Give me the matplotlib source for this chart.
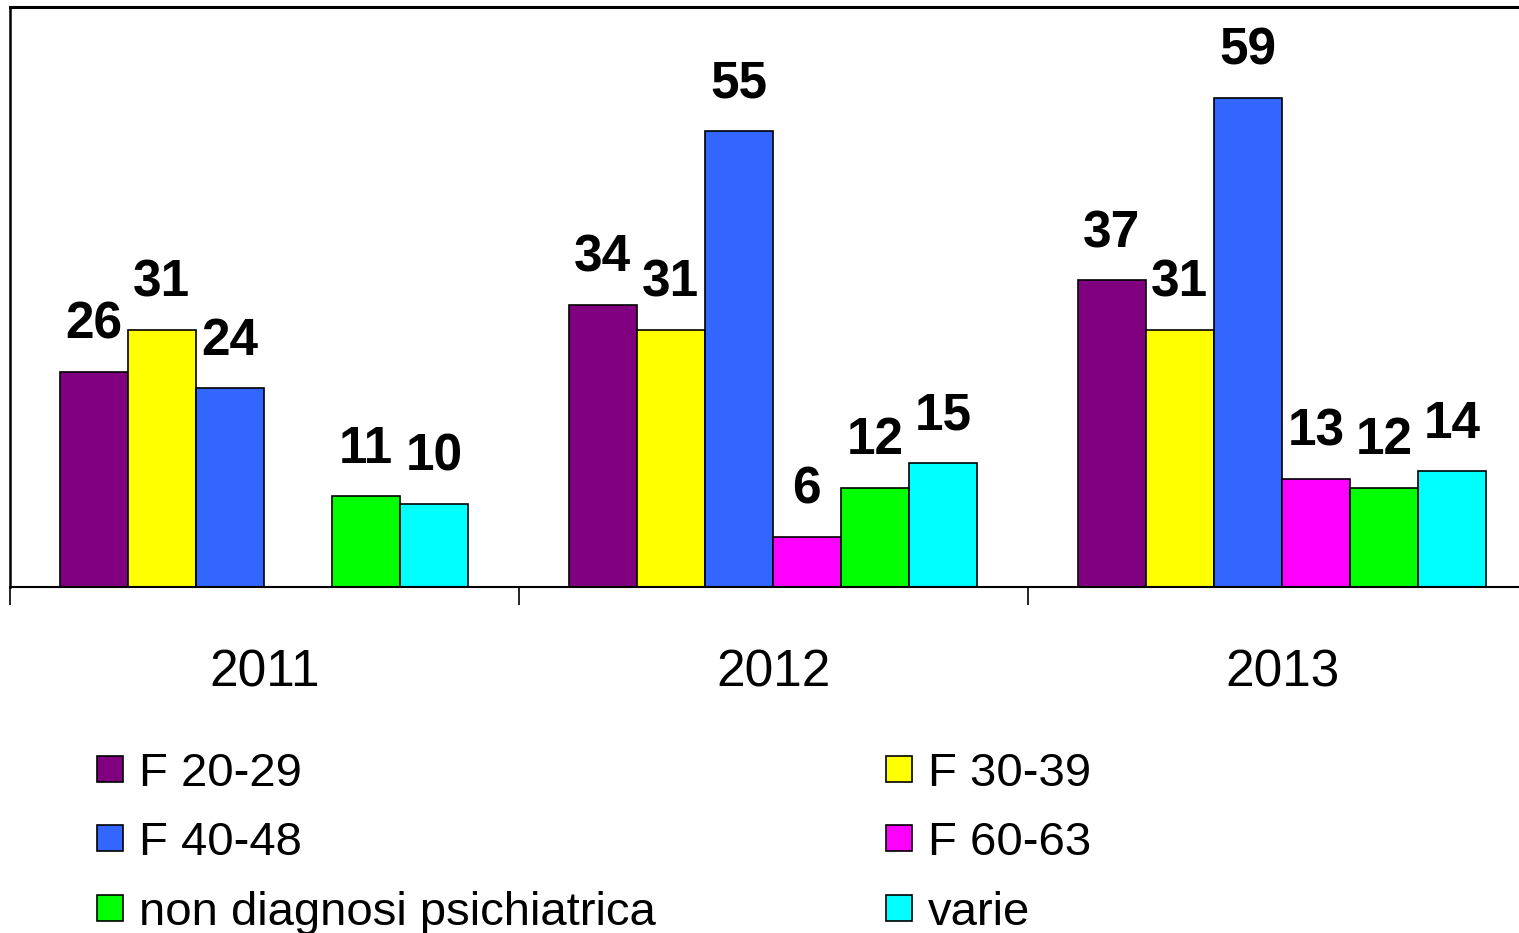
import numpy as np
import matplotlib.pyplot as plt
from matplotlib.patches import Rectangle

plt.rcParams['font.family'] = ['Liberation Sans', 'DejaVu Sans']

# data
years = ['2011', '2012', '2013']
series = ['F 20-29', 'F 30-39', 'F 40-48', 'F 60-63',
          'non diagnosi psichiatrica', 'varie']
colors = ['#800080', '#FFFF00', '#3366FF', '#FF00FF', '#00FF00', '#00FFFF']
values = [
    [26, 34, 37],
    [31, 31, 31],
    [24, 55, 59],
    [np.nan, 6, 13],
    [11, 12, 12],
    [10, 15, 14],
]

W, H = 1519, 933
fig = plt.figure(figsize=(W / 100, H / 100), dpi=100)
ax = fig.add_axes([10 / W, 1 - 587 / H, 1527 / W, 580 / H])

bw = 0.1336
off = 0.098
for i, (name, col) in enumerate(zip(series, colors)):
	xs = np.arange(len(years)) + off + (i + 0.5) * bw
	vals = np.array(values[i], dtype=float)
	ax.bar(xs, vals, width=bw, color=col, edgecolor='black', linewidth=1.2)
	for x, v in zip(xs, vals):
		if np.isnan(v):
			continue
		ax.annotate('%d' % v, (x, v), xytext=(0, 24), textcoords='offset points',
			ha='center', va='baseline', fontsize=37, fontweight='bold')

ax.set_xlim(0, 3)
ax.set_ylim(0, 70)
ax.set_yticks([])
ax.set_xticks([0, 1, 2, 3])
ax.set_xticklabels([])
ax.tick_params(axis='x', which='major', length=13, width=1.2, direction='out')
ax.set_xticks([0.5, 1.5, 2.5], minor=True)
ax.set_xticklabels(years, minor=True, fontsize=37)
ax.tick_params(axis='x', which='minor', length=0, pad=44)
ax.spines['right'].set_visible(False)
ax.spines['top'].set_linewidth(2.2)
ax.spines['left'].set_linewidth(1.8)
ax.spines['bottom'].set_linewidth(1.5)

# legend, two columns filled row by row
col_x = [97, 886]
row_y = [769, 838, 908]
for k, (name, col) in enumerate(zip(series, colors)):
	cx = col_x[k % 2]
	cy = row_y[k // 2]
	fig.add_artist(Rectangle((cx / W, 1 - (cy + 13) / H), 26 / W, 26 / H,
		transform=fig.transFigure, facecolor=col, edgecolor='black', linewidth=1.2))
	fig.text((cx + 42) / W, 1 - cy / H, name, fontsize=34, ha='left', va='center_baseline')

fig.savefig('out.png', dpi=100)
